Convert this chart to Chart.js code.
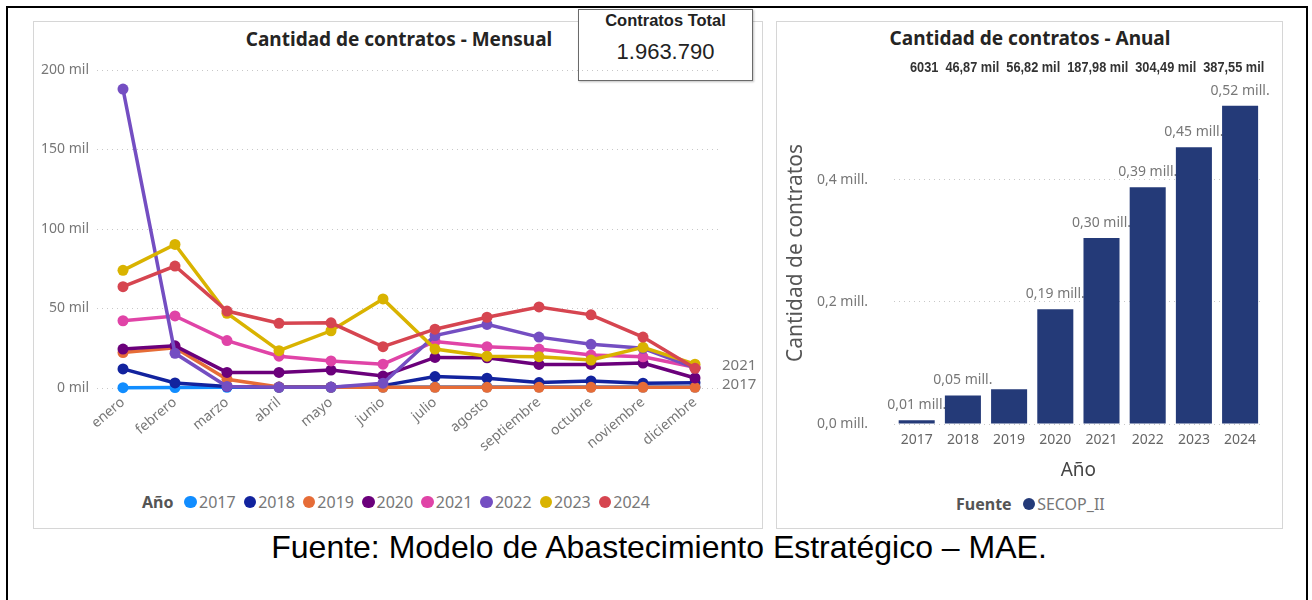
<!DOCTYPE html>
<html lang="es">
<head>
<meta charset="utf-8">
<title>Cantidad de contratos</title>
<script src="https://cdn.jsdelivr.net/npm/chart.js@4.4.1/dist/chart.umd.min.js"></script>
<style>
  html, body { margin: 0; padding: 0; background: #fff; }
  body { width: 1312px; height: 600px; position: relative; overflow: hidden;
         font-family: 'Segoe UI', 'Noto Sans', 'Open Sans', sans-serif; }
  .frame { position: absolute; left: 6px; top: 6px; width: 1298px; height: 620px;
           border: 2px solid #000; }
  .panel { position: absolute; border: 1px solid #d6d6d6; background: #fff; }
  #panelMes { left: 33px; top: 21px; width: 728px; height: 506px; }
  #panelAnio { left: 776px; top: 21px; width: 505px; height: 506px; }
  .title { position: absolute; font-weight: bold; font-size: 19px; color: #252423;
           white-space: nowrap; transform: translateX(-50%); }
  canvas { position: absolute; }
  #card { position: absolute; left: 578px; top: 9px; width: 173px; height: 70px;
          border: 1px solid #6a6a6a; background: #fff; box-shadow: 1px 1px 2px rgba(0,0,0,0.25); }
  #card .t { font: bold 16.5px 'Liberation Sans', Arial, sans-serif; text-align: center;
             margin-top: 1px; color: #222; }
  #card .v { font: 22px 'Liberation Sans', Arial, sans-serif; text-align: center;
             margin-top: 9px; color: #222; }
  .legend { position: absolute; display: flex; align-items: center; font-size: 16px;
            color: #777; white-space: nowrap; }
  .legend b { color: #555; margin-right: 11px; }
  .legend .item { display: flex; align-items: center; }
  .legend .dot { width: 12.5px; height: 12.5px; border-radius: 50%; margin-right: 2px; }
  #caption { position: absolute; left: 0; width: 1318px; top: 529px; text-align: center;
             font: 32px 'Liberation Sans', Arial, sans-serif; color: #000; }
</style>
</head>
<body>
<div class="frame"></div>
<div class="panel" id="panelMes"></div>
<div class="panel" id="panelAnio"></div>
<div class="title" style="left:399px; top:26px;">Cantidad de contratos - Mensual</div>
<div class="title" style="left:1030px; top:25px;">Cantidad de contratos - Anual</div>
<div id="card"><div class="t">Contratos Total</div><div class="v" id="cardValue"></div></div>

<canvas id="chartMensual" width="730" height="459" style="left:33px; top:21px;"></canvas>
<canvas id="chartAnual" width="506" height="470" style="left:776px; top:21px;"></canvas>

<div class="legend" id="legendMes" style="left:142px; top:491px;"></div>
<div class="legend" id="legendAnio" style="left:956px; top:493px;"></div>
<div id="caption">Fuente: Modelo de Abastecimiento Estratégico – MAE.</div>

<script>
// Meses y años
const meses = ['enero', 'febrero', 'marzo', 'abril', 'mayo', 'junio', 'julio',
               'agosto', 'septiembre', 'octubre', 'noviembre', 'diciembre'];
const anios = ['2017', '2018', '2019', '2020', '2021', '2022', '2023', '2024'];
const coloresAnio = ['#118DFF', '#12239E', '#E66C37', '#6B007B', '#E044A7', '#744EC2', '#D9B300', '#D64550'];

// Contratos por mes (cada arreglo es un año)
const mes2017 = [200, 300, 400, 400, 450, 500, 600, 650, 650, 650, 600, 631];
const mes2018 = [12000, 3200, 1000, 600, 600, 1500, 7200, 6200, 3400, 4400, 3000, 3300];
const mes2019 = [22300, 25300, 5500, 600, 500, 400, 400, 400, 400, 400, 400, 400];
const mes2020 = [24500, 26500, 9800, 9800, 11300, 7500, 19200, 19000, 14800, 14800, 15700, 6300];
const mes2021 = [42300, 45300, 29800, 20000, 17000, 15000, 29300, 26000, 24500, 20700, 19600, 13000];
const mes2022 = [188000, 21800, 1000, 500, 500, 3000, 33000, 40000, 32000, 27500, 25000, 12600];
const mes2023 = [74000, 90300, 47000, 23500, 36000, 56000, 24500, 20000, 19700, 17600, 25600, 15000];
const mes2024 = [63700, 76700, 48400, 40700, 41000, 26000, 37000, 44500, 51000, 46000, 32000, 12400];

// Totales anuales (SECOP_II)
const totalAnual = [6031, 46870, 56820, 187980, 304490, 387550, 453000, 521049];
const ticksAnual = [0, 200000, 400000];
const etiquetasFin = ['2021', '2017'];

const seriesMes = [mes2017, mes2018, mes2019, mes2020, mes2021, mes2022, mes2023, mes2024];

Chart.defaults.font.family = "'Segoe UI', 'Noto Sans', 'Open Sans', sans-serif";
Chart.defaults.color = '#666';

document.getElementById('cardValue').textContent =
    totalAnual.reduce((a, b) => a + b, 0).toLocaleString('de-DE');

const gridPunteada = {
    color: '#c8c8c8',
    lineWidth: 1,
    drawTicks: false
};

// nombre del año al final de algunas series
const etiquetaFinal = {
    id: 'etiquetaFinal',
    afterDatasetsDraw(chart) {
        const ctx = chart.ctx;
        ctx.save();
        ctx.font = "15px 'Segoe UI', 'Noto Sans', sans-serif";
        ctx.fillStyle = '#777';
        ctx.textBaseline = 'middle';
        let ultimaY = null;
        chart.data.datasets.forEach((ds, i) => {
            if (!etiquetasFin.includes(ds.label)) return;
            const meta = chart.getDatasetMeta(i);
            const pt = meta.data[meta.data.length - 1];
            let y = pt.y - 2;
            if (ultimaY !== null && Math.abs(y - ultimaY) < 18) y = ultimaY + 18;
            ctx.fillText(ds.label, chart.chartArea.right + 1, y);
            ultimaY = y;
        });
        ctx.restore();
    }
};

new Chart(document.getElementById('chartMensual'), {
    type: 'line',
    data: {
        labels: meses,
        datasets: anios.map((a, i) => ({
            label: a,
            data: seriesMes[i],
            borderColor: coloresAnio[i],
            backgroundColor: coloresAnio[i],
            borderWidth: 3.5,
            pointRadius: 5.5,
            pointHoverRadius: 5.5,
            pointBorderWidth: 0,
            tension: 0,
            clip: false,
            order: anios.length - i
        })).reverse()
    },
    options: {
        responsive: false,
        animation: false,
        devicePixelRatio: 1,
        layout: { padding: { left: 0, top: 49, right: 42, bottom: 0 } },
        plugins: { legend: { display: false }, tooltip: { enabled: false } },
        scales: {
            x: {
                offset: true,
                grid: { display: false, drawTicks: false },
                border: { display: false },
                ticks: {
                    autoSkip: false,
                    minRotation: 40,
                    maxRotation: 40,
                    padding: 6,
                    color: '#777',
                    font: { size: 14 }
                },
                afterFit(scale) { scale.height = 92; }
            },
            y: {
                min: 0,
                max: 200000,
                grid: Object.assign({}, gridPunteada),
                border: { display: false, dash: [1, 4] },
                ticks: {
                    stepSize: 50000,
                    padding: 8,
                    color: '#777',
                    font: { size: 14 },
                    callback: v => (v / 1000) + ' mil'
                },
                afterFit(scale) { scale.width = 64; }
            }
        }
    },
    plugins: [etiquetaFinal]
});

// etiquetas de valor sobre las barras (antes de las barras, la siguiente barra las tapa)
const etiquetasBarras = {
    id: 'etiquetasBarras',
    beforeDatasetsDraw(chart) {
        const ctx = chart.ctx;
        const meta = chart.getDatasetMeta(0);
        const valores = chart.data.datasets[0].data;
        ctx.save();
        ctx.font = "14px 'Segoe UI', 'Noto Sans', sans-serif";
        ctx.fillStyle = '#777';
        ctx.textAlign = 'center';
        ctx.textBaseline = 'bottom';
        let previa = null;
        meta.data.forEach((bar, i) => {
            const txt = (valores[i] / 1e6).toFixed(2).replace('.', ',') + ' mill.';
            const w = ctx.measureText(txt).width;
            const caja = { x1: bar.x - w / 2, x2: bar.x + w / 2, y1: bar.y - 28, y2: bar.y - 8 };
            if (previa && caja.x1 < previa.x2 && caja.x2 > previa.x1 &&
                caja.y1 < previa.y2 && caja.y2 > previa.y1) return;
            ctx.fillText(txt, bar.x, bar.y - 8);
            previa = caja;
        });
        ctx.restore();
    },
    afterDraw(chart) {
        // fila de totales sobre el gráfico
        const ctx = chart.ctx;
        const valores = chart.data.datasets[0].data.slice(0, 6);
        const k = 0.88;
        ctx.save();
        ctx.font = "bold 14.5px 'Liberation Sans', Arial, sans-serif";
        ctx.fillStyle = '#333';
        ctx.textBaseline = 'middle';
        ctx.scale(k, 1);
        let x = 134 / k;
        valores.forEach(v => {
            const txt = v < 10000 ? String(v) : (v / 1000).toFixed(2).replace('.', ',') + ' mil';
            ctx.fillText(txt, x, 47);
            x += ctx.measureText(txt).width + 7 / k;
        });
        ctx.restore();
    }
};

new Chart(document.getElementById('chartAnual'), {
    type: 'bar',
    data: {
        labels: anios,
        datasets: [{
            label: 'SECOP_II',
            data: totalAnual,
            backgroundColor: '#243A78',
            barPercentage: 0.78,
            categoryPercentage: 1
        }]
    },
    options: {
        responsive: false,
        animation: false,
        devicePixelRatio: 1,
        layout: { padding: { left: 7, top: 61, right: 18.8, bottom: 0 } },
        plugins: { legend: { display: false }, tooltip: { enabled: false } },
        scales: {
            x: {
                grid: { display: false, drawTicks: false },
                border: { display: false },
                ticks: { padding: 8, color: '#666', font: { size: 14 }, maxRotation: 0 },
                title: {
                    display: true, text: 'Año', color: '#444',
                    font: { size: 19 }, padding: { top: 0, bottom: 9 }
                },
                afterFit(scale) { scale.height = 67; }
            },
            y: {
                min: 0,
                max: 560000,
                grid: Object.assign({}, gridPunteada),
                border: { display: false, dash: [1, 4] },
                ticks: {
                    padding: 25.6,
                    color: '#777',
                    font: { size: 14 },
                    callback: v => (v / 1e6).toFixed(1).replace('.', ',') + ' mill.'
                },
                afterBuildTicks(scale) {
                    scale.ticks = ticksAnual.map(v => ({ value: v }));
                },
                title: {
                    display: true, text: 'Cantidad de contratos', color: '#555',
                    font: { size: 21 }, padding: 0
                },
                afterFit(scale) { scale.width = 110.6; }
            }
        }
    },
    plugins: [etiquetasBarras]
});

// leyendas
function crearLeyenda(id, titulo, nombres, colores, anchoItem) {
    const cont = document.getElementById(id);
    const b = document.createElement('b');
    b.textContent = titulo;
    cont.appendChild(b);
    nombres.forEach((n, i) => {
        const item = document.createElement('span');
        item.className = 'item';
        if (anchoItem) item.style.width = anchoItem + 'px';
        const dot = document.createElement('span');
        dot.className = 'dot';
        dot.style.background = colores[i];
        item.appendChild(dot);
        item.appendChild(document.createTextNode(n));
        cont.appendChild(item);
    });
}
crearLeyenda('legendMes', 'Año', anios, coloresAnio, 59.2);
crearLeyenda('legendAnio', 'Fuente', ['SECOP_II'], ['#243A78']);
</script>
</body>
</html>
